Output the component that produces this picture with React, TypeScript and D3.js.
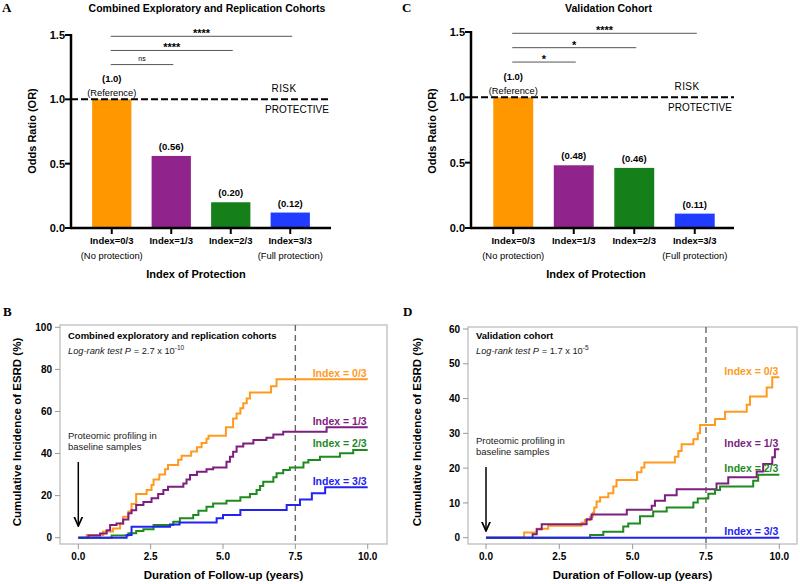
import React from "react";
import * as d3 from "d3";

// ---- data ----
const categories = ["Index=0/3", "Index=1/3", "Index=2/3", "Index=3/3"];
const subLabels = ["(No protection)", "", "", "(Full protection)"];
const orCombined = [1.0, 0.56, 0.2, 0.12];
const orCombinedLabels = ["(1.0)", "(0.56)", "(0.20)", "(0.12)"];
const orValidation = [1.0, 0.48, 0.46, 0.11];
const orValidationLabels = ["(1.0)", "(0.48)", "(0.46)", "(0.11)"];
const sigCombined = ["ns", "****", "****"];
const sigValidation = ["*", "*", "****"];
const sigLevels = [1.27, 1.38, 1.49];
const orTicks = [0, 0.5, 1.0, 1.5];

const barColors = ["#FF9800", "#91238C", "#15801A", "#1F3CFF"];
const kmColors = ["#FF9A1E", "#7E1E7E", "#1F8A1F", "#2323F0"];
const kmNames = ["Index = 0/3", "Index = 1/3", "Index = 2/3", "Index = 3/3"];

const yearTicks = [0, 2.5, 5, 7.5, 10];
const pctTicksB = [0, 20, 40, 60, 80, 100];
const pctTicksD = [0, 10, 20, 30, 40, 50, 60];

// [years, cumulative incidence %]
const kmB0: [number, number][] = [[0, 0], [0.29, 1.3], [0.86, 2.9], [1.2, 4.4], [1.44, 6.8], [1.55, 10], [1.73, 12.4], [1.84, 16], [2.0, 20.8], [2.36, 22.7], [2.53, 25], [2.6, 27.7], [2.8, 30], [3.0, 32.5], [3.1, 34.5], [3.45, 37], [3.57, 39], [3.9, 41], [4.1, 43], [4.26, 45], [4.43, 47], [4.5, 48.5], [5.1, 52.5], [5.35, 56.7], [5.47, 59], [5.6, 61.5], [5.7, 63.9], [5.82, 66.2], [5.93, 69], [6.66, 72], [6.85, 75.3], [10, 75.3]];
const kmB1: [number, number][] = [[0, 0], [0.35, 1], [0.75, 2], [0.98, 3.6], [1.1, 6], [1.32, 6.8], [1.55, 8.7], [1.73, 11.6], [1.84, 13], [2.0, 15.5], [2.25, 17], [2.53, 18.7], [2.76, 20.8], [2.94, 22.7], [3.1, 24.2], [3.63, 25.8], [3.74, 27.7], [3.86, 29.8], [4.1, 31.4], [4.43, 32.5], [4.66, 33.4], [5.12, 36.1], [5.24, 38.5], [5.35, 40.9], [5.47, 43.3], [5.7, 44.8], [6.05, 46.4], [6.5, 47.5], [6.74, 49], [7.08, 50.4], [8.58, 52.5], [10, 52.5]];
const kmB2: [number, number][] = [[0, 0], [1.15, 1], [1.73, 2.1], [2.0, 3.2], [2.25, 4], [2.6, 6], [3.28, 7.6], [3.51, 9.2], [3.97, 10.8], [4.15, 12.8], [4.43, 14.7], [4.66, 16.3], [5.12, 17.6], [5.6, 19.2], [5.93, 20.8], [6.16, 22.7], [6.28, 24.6], [6.39, 26.6], [6.74, 28.7], [6.85, 30.6], [7.08, 32.2], [7.31, 33.4], [7.78, 35.7], [7.95, 36.9], [8.35, 38.5], [9.04, 40.1], [9.5, 41.7], [10, 41.7]];
const kmB3: [number, number][] = [[0, 0], [1.67, 1.3], [1.84, 5.2], [3.17, 6.3], [3.5, 7.2], [4.78, 9.2], [5.0, 10.8], [5.6, 13.2], [7.2, 15.5], [7.66, 18.2], [8.07, 21.1], [8.53, 24], [10, 24]];

const kmD0: [number, number][] = [[0, 0], [1.3, 1.5], [1.73, 2.6], [2.12, 3.4], [3.26, 4.3], [3.37, 5.1], [3.55, 6.0], [3.64, 7.2], [3.69, 8.7], [3.77, 10.4], [3.89, 11.6], [4.17, 12.8], [4.34, 14.7], [4.45, 16.6], [5.15, 18.8], [5.3, 20.2], [5.4, 21.6], [6.44, 23.3], [6.56, 24.9], [6.67, 26.9], [7.07, 28.3], [7.22, 30], [7.3, 32.4], [7.81, 34.1], [8.15, 36.2], [8.89, 38.2], [9.0, 40.6], [9.57, 43.2], [9.76, 46.1], [10, 46.1]];
const kmD1: [number, number][] = [[0, 0], [1.59, 1], [1.73, 2.4], [1.9, 3.9], [3.43, 5.3], [3.6, 6.7], [4.8, 8.0], [5.65, 9.2], [5.76, 10.6], [6.1, 12.2], [6.5, 13.9], [7.86, 15.6], [8.26, 17.4], [9.23, 19], [9.45, 21.2], [9.76, 23.1], [9.85, 25.4], [10, 25.4]];
const kmD2: [number, number][] = [[0, 0], [3.55, 0.8], [4.0, 1.7], [4.68, 3.2], [4.85, 4.1], [5.25, 6.2], [5.7, 7.5], [6.16, 8.7], [7.07, 10.1], [7.22, 11.3], [7.58, 12.6], [7.81, 13.7], [7.98, 14.7], [9.11, 16.4], [9.28, 18.1], [10, 18.1]];
const kmD3: [number, number][] = [[0, 0], [10, 0]];

const sans = "Liberation Sans, Arial, Helvetica, sans-serif";

type BarProps = {
  letter: string;
  title: string;
  ox: number;
  axisL: number;
  axisR: number;
  bandL: number;
  bandR: number;
  yTop: number;
  values: number[];
  labels: string[];
  sig: string[];
};

function BarPanel(p: BarProps) {
  const y = d3.scaleLinear().domain([0, 1.5]).range([228, p.yTop]);
  const x = d3.scaleBand<string>().domain(categories).range([p.bandL, p.bandR]).paddingInner(0.34).paddingOuter(0.17);
  const cx = (i: number) => (x(categories[i]) as number) + x.bandwidth() / 2;
  const base = y(0);
  return (
    <g fontFamily={sans}>
      <text x={p.ox + 2} y={12} fontFamily="Liberation Serif, Times New Roman, serif" fontWeight="bold" fontSize={13}>{p.letter}</text>
      <text x={(p.axisL + p.axisR) / 2 + 6} y={12} textAnchor="middle" fontWeight="bold" fontSize={10.5}>{p.title}</text>
      {/* significance brackets */}
      {p.sig.map((s, i) => {
        const x1 = cx(0) - 1;
        const x2 = cx(i + 1) + 2;
        const ly = y(sigLevels[i]);
        return (
          <g key={i}>
            <line x1={x1} x2={x2} y1={ly} y2={ly} stroke="#555" strokeWidth={1} />
            <text x={(x1 + x2) / 2} y={s === "ns" ? ly - 4 : ly + 1} textAnchor="middle" fontSize={s === "ns" ? 7 : 11} fontWeight={s === "ns" ? "normal" : "bold"}>{s}</text>
          </g>
        );
      })}
      {/* bars */}
      {p.values.map((v, i) => (
        <rect key={i} x={x(categories[i])} y={y(v)} width={x.bandwidth()} height={base - y(v)} fill={barColors[i]} />
      ))}
      {p.values.map((v, i) =>
        i === 0 ? (
          <g key={i}>
            <text x={cx(i)} y={y(v) - 17} textAnchor="middle" fontSize={9.5} fontWeight="bold">{p.labels[i]}</text>
            <text x={cx(i)} y={y(v) - 3.5} textAnchor="middle" fontSize={9.3}>(Reference)</text>
          </g>
        ) : (
          <text key={i} x={cx(i)} y={y(v) - 6} textAnchor="middle" fontSize={9.5} fontWeight="bold">{p.labels[i]}</text>
        )
      )}
      {/* reference line */}
      <line x1={p.axisL} x2={p.axisR} y1={y(1)} y2={y(1)} stroke="#000" strokeWidth={2} strokeDasharray="7,3" />
      <text x={p.axisR - 47} y={y(1) - 7} textAnchor="middle" fontSize={10} letterSpacing={0.4}>RISK</text>
      <text x={p.axisR - 34} y={y(1) + 14} textAnchor="middle" fontSize={10}>PROTECTIVE</text>
      {/* axes */}
      <line x1={p.axisL} x2={p.axisL} y1={y(1.5) - 1} y2={base + 1.2} stroke="#000" strokeWidth={2.5} />
      <line x1={p.axisL} x2={p.axisR} y1={base} y2={base} stroke="#000" strokeWidth={2.5} />
      {orTicks.map((t) => (
        <g key={t}>
          <line x1={p.axisL - 6} x2={p.axisL} y1={y(t)} y2={y(t)} stroke="#000" strokeWidth={2} />
          <text x={p.axisL - 6} y={y(t) + 4} textAnchor="end" fontSize={11} fontWeight="bold">{t.toFixed(1)}</text>
        </g>
      ))}
      {categories.map((c, i) => (
        <g key={c}>
          <line x1={cx(i)} x2={cx(i)} y1={base} y2={base + 6} stroke="#000" strokeWidth={2} />
          <text x={cx(i)} y={243.5} textAnchor="middle" fontSize={9.5} fontWeight="bold">{c}</text>
          {subLabels[i] && <text x={cx(i)} y={258.5} textAnchor="middle" fontSize={9.4}>{subLabels[i]}</text>}
        </g>
      ))}
      <text transform={`translate(${p.ox + 36},${131}) rotate(-90)`} textAnchor="middle" fontSize={11} fontWeight="bold">Odds Ratio (OR)</text>
      <text x={p.ox + 196} y={278} textAnchor="middle" fontSize={11} fontWeight="bold">Index of Protection</text>
    </g>
  );
}

type KmProps = {
  letter: string;
  ox: number;
  boxL: number;
  boxR: number;
  boxT: number;
  x0: number;
  x10: number;
  yMaxPx: number;
  yMax: number;
  ticks: number[];
  series: [number, number][][];
  heading: string;
  pval: string;
  pexp: string;
  arrowTop: number;
  textY: number;
};

function KmPanel(p: KmProps) {
  const boxB = 544;
  const x = d3.scaleLinear().domain([0, 10]).range([p.x0, p.x10]);
  const y = d3.scaleLinear().domain([0, p.yMax]).range([537.7, p.yMaxPx]);
  const line = d3.line<[number, number]>().x((d) => x(d[0])).y((d) => y(d[1])).curve(d3.curveStepAfter);
  const tx = p.boxL + 8;
  return (
    <g fontFamily={sans}>
      <defs>
        <marker id={`arr${p.letter}`} viewBox="0 0 10 10" refX="9" refY="5" markerWidth="7" markerHeight="7" orient="auto">
          <path d="M0,1 L9,5 L0,9" fill="none" stroke="#000" strokeWidth={1.6} />
        </marker>
      </defs>
      <text x={p.ox + 3} y={316} fontFamily="Liberation Serif, Times New Roman, serif" fontWeight="bold" fontSize={13}>{p.letter}</text>
      <rect x={p.boxL} y={p.boxT} width={p.boxR - p.boxL} height={boxB - p.boxT} fill="none" stroke="#bdbdbd" strokeWidth={1.3} />
      {p.ticks.map((t) => (
        <g key={t}>
          <line x1={p.boxL - 5} x2={p.boxL} y1={y(t)} y2={y(t)} stroke="#999" strokeWidth={1} />
          <text x={p.boxL - 8} y={y(t) + 3.6} textAnchor="end" fontSize={10} fontWeight="bold">{t}</text>
        </g>
      ))}
      {yearTicks.map((t) => (
        <g key={t}>
          <line x1={x(t)} x2={x(t)} y1={boxB} y2={boxB + 5} stroke="#999" strokeWidth={1} />
          <text x={x(t)} y={560} textAnchor="middle" fontSize={10} fontWeight="bold">{t.toFixed(1)}</text>
        </g>
      ))}
      <line x1={x(7.5)} x2={x(7.5)} y1={p.boxT} y2={boxB} stroke="#666" strokeWidth={1.4} strokeDasharray="6,4" />
      {p.series.map((s, i) => (
        <path key={i} d={line(s) as string} fill="none" stroke={kmColors[i]} strokeWidth={2} />
      ))}
      {p.series.map((s, i) => (
        <text key={i} x={x(10) - 1} y={y(s[s.length - 1][1]) - 2.5} textAnchor="end" fontSize={10.5} fontWeight="bold" fill={kmColors[i]}>{kmNames[i]}</text>
      ))}
      <text x={tx} y={338.5} fontSize={9.5} fontWeight="bold">{p.heading}</text>
      <text x={tx} y={353.5} fontSize={9.3} fill="#222">
        <tspan fontStyle="italic">Log-rank test P</tspan>
        <tspan>{` = ${p.pval} x 10`}</tspan>
        <tspan fontSize={6.5} dy={-4}>{p.pexp}</tspan>
      </text>
      <text x={tx} y={p.textY} fontSize={9.5} fill="#222">Proteomic profiling in</text>
      <text x={tx} y={p.textY + 11} fontSize={9.5} fill="#222">baseline samples</text>
      <line x1={x(0)} x2={x(0)} y1={p.arrowTop} y2={p.arrowTop + 64} stroke="#000" strokeWidth={1.5} markerEnd={`url(#arr${p.letter})`} />
      <text transform={`translate(${p.ox + 21},${432}) rotate(-90)`} textAnchor="middle" fontSize={11.5} fontWeight="bold">Cumulative Incidence of ESRD (%)</text>
      <text x={(p.boxL + p.boxR) / 2} y={579} textAnchor="middle" fontSize={11.5} fontWeight="bold">Duration of Follow-up (years)</text>
    </g>
  );
}

export default function App() {
  return (
    <svg width={800} height={584} style={{ position: "absolute", left: 0, top: 0, background: "#fff" }}>
      <BarPanel letter="A" title="Combined Exploratory and Replication Cohorts" ox={0} axisL={71} axisR={331} bandL={82} bandR={320} yTop={35} values={orCombined} labels={orCombinedLabels} sig={sigCombined} />
      <BarPanel letter="C" title="Validation Cohort" ox={400} axisL={471} axisR={734} bandL={483} bandR={725} yTop={32} values={orValidation} labels={orValidationLabels} sig={sigValidation} />
      <KmPanel letter="B" ox={0} boxL={60} boxR={387} boxT={325} x0={78.3} x10={367.7} yMaxPx={327.3} yMax={100} ticks={pctTicksB} series={[kmB0, kmB1, kmB2, kmB3]} heading="Combined exploratory and replication cohorts" pval="2.7" pexp="-10" arrowTop={462} textY={439} />
      <KmPanel letter="D" ox={400} boxL={468} boxR={797} boxT={327} x0={486} x10={779.3} yMaxPx={329} yMax={60} ticks={pctTicksD} series={[kmD0, kmD1, kmD2, kmD3]} heading="Validation cohort" pval="1.7" pexp="-5" arrowTop={467} textY={444} />
    </svg>
  );
}
